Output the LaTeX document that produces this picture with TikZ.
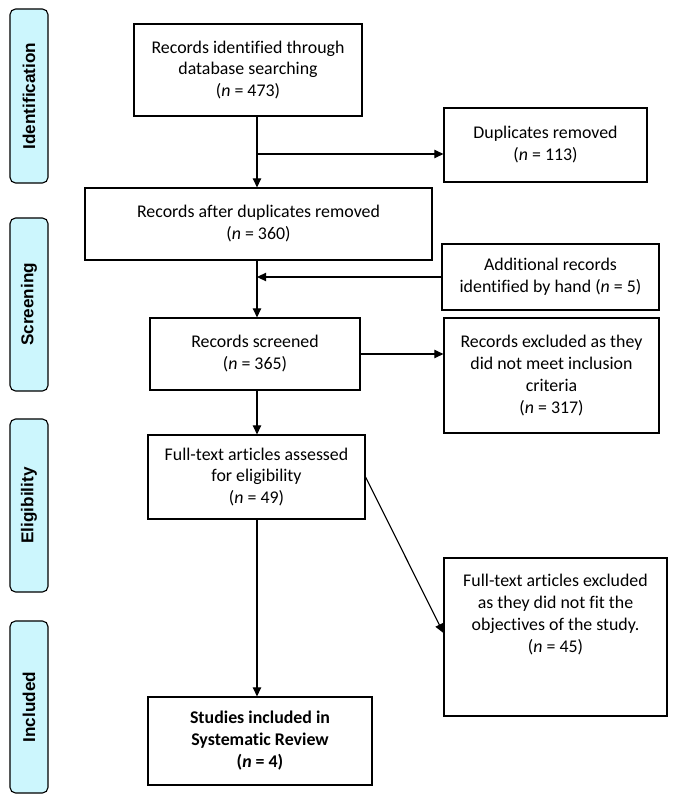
\documentclass[tikz,border=0pt]{standalone}
\usepackage{fontspec}
\setmainfont{Carlito}[Ligatures={NoCommon,NoRequired,NoContextual}]
\newfontfamily\sidefont{Liberation Sans}
\usepackage{tikz}
\usetikzlibrary{arrows.meta,positioning}

\tikzset{
  box/.style={shape=rectangle, draw, line width=0.8pt, align=center, inner sep=0pt},
  phase/.style={shape=rectangle, draw, line width=0.8pt, rounded corners=4pt, fill=phasefill, inner sep=0pt},
  phasetext/.style={rotate=90, font=\sidefont\bfseries\fontsize{12.2}{14}\selectfont},
  arr/.style={line width=0.8pt, -{Triangle[length=6.5pt,width=6pt]}}
}
\definecolor{phasefill}{HTML}{CCF6FD}

\begin{document}
\begin{tikzpicture}[x=0.025cm, y=-0.025cm, font=\fontsize{12.7}{15.6}\selectfont]
    		\useasboundingbox (0,0) rectangle (677,800);
    		% Phase labels:
    		\node[phase, minimum width=0.95cm, minimum height=4.35cm](P1) at (29, 96){} node[phasetext] at (P1.center){Identification};
    		\node[phase, minimum width=0.95cm, minimum height=4.325cm](P2) at (29, 304.5){} node[phasetext] at (P2.center){Screening};
    		\node[phase, minimum width=0.95cm, minimum height=4.325cm](P3) at (29, 505.5){} node[phasetext] at (P3.center){Eligibility};
    		\node[phase, minimum width=0.95cm, minimum height=4.3cm](P4) at (29, 707){} node[phasetext] at (P4.center){Included};
    		% Boxes:
    		\node[box, minimum width=5.7cm, minimum height=2.3cm](B1) at (248, 70){Records identified through\\database searching\\(\textit{n} = 473)};
    		\node[box, minimum width=5.075cm, minimum height=1.85cm](B2) at (545.5, 145){Duplicates removed\\(\textit{n} = 113)};
    		\node[box, minimum width=8.675cm, minimum height=1.8cm](B3) at (258.5, 224){Records after duplicates removed\\(\textit{n} = 360)};
    		\node[box, minimum width=5.425cm, minimum height=1.65cm](B4) at (550.5, 277){Additional records\\identified by hand (\textit{n} = 5)};
    		\node[box, minimum width=5.25cm, minimum height=1.8cm](B5) at (255, 354){Records screened\\(\textit{n} = 365)};
    		\node[box, minimum width=5.375cm, minimum height=2.875cm](B6) at (551.5, 375.5){Records excluded as they\\did not meet inclusion\\criteria\\(\textit{n} = 317)};
    		\node[box, minimum width=5.425cm, minimum height=2.1cm](B7) at (256.5, 477){Full-text articles assessed\\for eligibility\\(\textit{n} = 49)};
    		\node[box, minimum width=5.575cm, minimum height=3.95cm](B8) at (555.5, 637){};
    		\node[align=center, anchor=north, below=0.3cm of B8.north](T8){Full-text articles excluded\\as they did not fit the\\objectives of the study.\\(\textit{n} = 45)};
    		\node[box, minimum width=5.6cm, minimum height=2.2cm, font=\bfseries\fontsize{12.7}{15.6}\selectfont](B9) at (260, 741){Studies included in\\Systematic Review\\(\textit{n} = 4)};
    		% Connectors:
    		\coordinate (S) at (257, 0);
    		\coordinate (D) at (257, 154);
    		\draw[arr] (B1.south -| S) -- (B3.north -| S);
    		\draw[arr] (D) -- (D -| B2.west);
    		\draw[arr] (B3.south -| S) -- (B5.north -| S);
    		\draw[arr] (B4.west) -- (B4.west -| S);
    		\draw[arr] (B5.east) -- (B5.east -| B6.west);
    		\draw[arr] (B5.south -| S) -- (B7.north -| S);
    		\draw[arr] (B7.south -| S) -- (B9.north -| S);
    		\draw[arr] (B7.east) -- ([yshift=0.1cm]B8.west);
    	\end{tikzpicture}
\end{document}
